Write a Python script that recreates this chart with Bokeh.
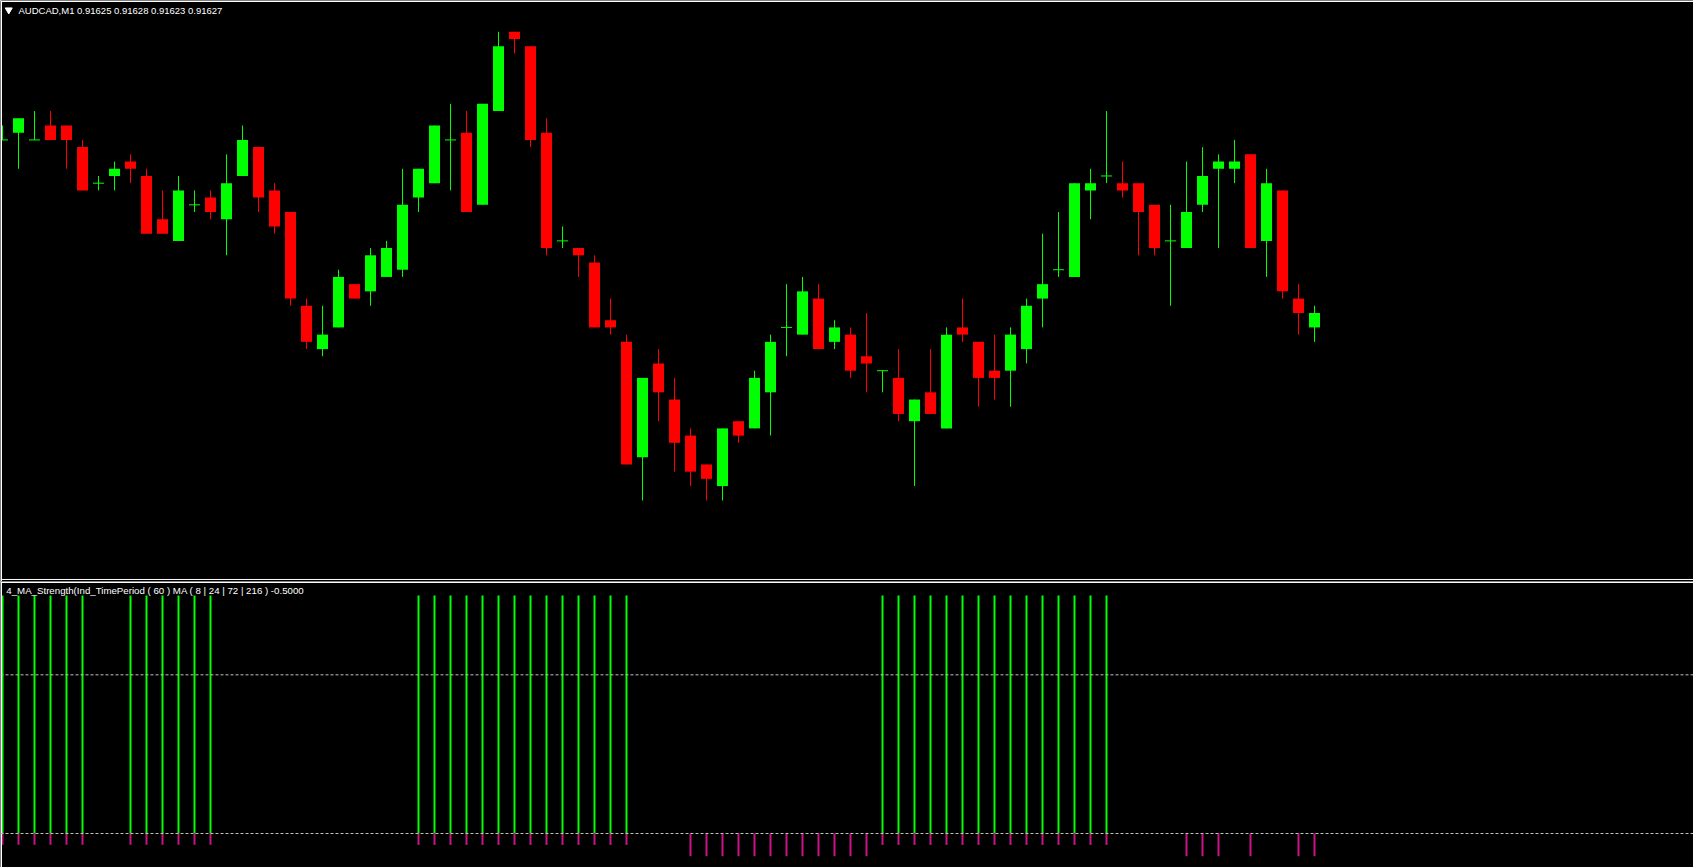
from bokeh.plotting import figure
from bokeh.layouts import column
from bokeh.models import Label, Span
from bokeh.embed import file_html
from bokeh.resources import INLINE

symbol = "AUDCAD,M1"
indicator_name = "4_MA_Strength(Ind_TimePeriod ( 60 ) MA ( 8 | 24 | 72 | 216 )  -0.5000"

opens = [0.91651, 0.91652, 0.91651, 0.91653, 0.91653, 0.91650, 0.91645, 0.91646, 0.91648, 0.91646,
         0.91640, 0.91637, 0.91642, 0.91643, 0.91640, 0.91646, 0.91650, 0.91644, 0.91641, 0.91628,
         0.91622, 0.91625, 0.91631, 0.91630, 0.91632, 0.91633, 0.91643, 0.91645, 0.91651, 0.91652,
         0.91642, 0.91655, 0.91666, 0.91664, 0.91652, 0.91637, 0.91636, 0.91634, 0.91626, 0.91623,
         0.91607, 0.91620, 0.91615, 0.91610, 0.91606, 0.91603, 0.91612, 0.91611, 0.91616, 0.91625,
         0.91624, 0.91629, 0.91623, 0.91624, 0.91621, 0.91619, 0.91618, 0.91612, 0.91616, 0.91611,
         0.91625, 0.91623, 0.91619, 0.91619, 0.91622, 0.91629, 0.91633, 0.91632, 0.91644, 0.91646,
         0.91645, 0.91645, 0.91642, 0.91637, 0.91636, 0.91642, 0.91647, 0.91647, 0.91649, 0.91637,
         0.91644, 0.91629, 0.91625]
highs = [0.91653, 0.91654, 0.91655, 0.91655, 0.91653, 0.91651, 0.91646, 0.91648, 0.91649, 0.91647,
         0.91644, 0.91646, 0.91644, 0.91644, 0.91649, 0.91653, 0.91650, 0.91645, 0.91641, 0.91629,
         0.91628, 0.91633, 0.91631, 0.91636, 0.91637, 0.91647, 0.91647, 0.91653, 0.91656, 0.91655,
         0.91656, 0.91666, 0.91666, 0.91664, 0.91654, 0.91639, 0.91636, 0.91635, 0.91629, 0.91624,
         0.91618, 0.91622, 0.91618, 0.91611, 0.91606, 0.91611, 0.91612, 0.91619, 0.91624, 0.91631,
         0.91632, 0.91631, 0.91626, 0.91625, 0.91627, 0.91619, 0.91622, 0.91615, 0.91622, 0.91625,
         0.91629, 0.91623, 0.91624, 0.91625, 0.91629, 0.91638, 0.91641, 0.91645, 0.91647, 0.91655,
         0.91648, 0.91645, 0.91642, 0.91642, 0.91648, 0.91650, 0.91649, 0.91651, 0.91649, 0.91647,
         0.91644, 0.91631, 0.91628]
lows = [0.91651, 0.91647, 0.91651, 0.91651, 0.91647, 0.91644, 0.91644, 0.91644, 0.91645, 0.91638,
        0.91638, 0.91637, 0.91641, 0.91640, 0.91635, 0.91646, 0.91641, 0.91638, 0.91628, 0.91622,
        0.91621, 0.91625, 0.91629, 0.91628, 0.91632, 0.91632, 0.91641, 0.91645, 0.91644, 0.91641,
        0.91642, 0.91655, 0.91663, 0.91650, 0.91635, 0.91636, 0.91632, 0.91625, 0.91624, 0.91606,
        0.91601, 0.91612, 0.91605, 0.91603, 0.91601, 0.91601, 0.91609, 0.91611, 0.91610, 0.91621,
        0.91624, 0.91622, 0.91622, 0.91618, 0.91616, 0.91616, 0.91612, 0.91603, 0.91613, 0.91611,
        0.91623, 0.91614, 0.91615, 0.91614, 0.91620, 0.91625, 0.91632, 0.91632, 0.91640, 0.91645,
        0.91643, 0.91635, 0.91635, 0.91628, 0.91636, 0.91641, 0.91636, 0.91645, 0.91636, 0.91632,
        0.91629, 0.91624, 0.91623]
closes = [0.91651, 0.91654, 0.91651, 0.91651, 0.91651, 0.91644, 0.91645, 0.91647, 0.91647, 0.91638,
          0.91638, 0.91644, 0.91642, 0.91641, 0.91645, 0.91651, 0.91643, 0.91639, 0.91629, 0.91623,
          0.91624, 0.91632, 0.91629, 0.91635, 0.91636, 0.91642, 0.91647, 0.91653, 0.91651, 0.91641,
          0.91656, 0.91664, 0.91665, 0.91651, 0.91636, 0.91637, 0.91635, 0.91625, 0.91625, 0.91606,
          0.91618, 0.91616, 0.91609, 0.91605, 0.91604, 0.91611, 0.91610, 0.91618, 0.91623, 0.91625,
          0.91630, 0.91622, 0.91625, 0.91619, 0.91620, 0.91619, 0.91613, 0.91615, 0.91613, 0.91624,
          0.91624, 0.91618, 0.91618, 0.91624, 0.91628, 0.91631, 0.91633, 0.91645, 0.91645, 0.91646,
          0.91644, 0.91641, 0.91636, 0.91637, 0.91641, 0.91646, 0.91648, 0.91648, 0.91636, 0.91645,
          0.91630, 0.91627, 0.91627]

# indicator buffers (histograms)
strength_up = [5.25, 5.25, 5.25, 5.25, 5.25, 5.25, 0, 0,
               5.25, 5.25, 5.25, 5.25, 5.25, 5.25,
               0, 0, 0, 0, 0, 0, 0, 0, 0, 0, 0, 0,
               5.25, 5.25, 5.25, 5.25, 5.25, 5.25, 5.25, 5.25, 5.25, 5.25, 5.25, 5.25, 5.25, 5.25,
               0, 0, 0, 0, 0, 0, 0, 0, 0, 0, 0, 0, 0, 0, 0,
               5.25, 5.25, 5.25, 5.25, 5.25, 5.25, 5.25, 5.25, 5.25, 5.25, 5.25, 5.25, 5.25, 5.25, 5.25,
               0, 0, 0, 0, 0, 0, 0, 0, 0, 0, 0, 0, 0]
strength_down = [-0.25, -0.25, -0.25, -0.25, -0.25, -0.25, 0, 0,
                 -0.25, -0.25, -0.25, -0.25, -0.25, -0.25,
                 0, 0, 0, 0, 0, 0, 0, 0, 0, 0, 0, 0,
                 -0.25, -0.25, -0.25, -0.25, -0.25, -0.25, -0.25, -0.25, -0.25, -0.25, -0.25, -0.25, -0.25, -0.25,
                 0, 0, 0,
                 -0.5, -0.5, -0.5, -0.5, -0.5, -0.5, -0.5, -0.5, -0.5, -0.5, -0.5, -0.5,
                 -0.25, -0.25, -0.25, -0.25, -0.25, -0.25, -0.25, -0.25, -0.25, -0.25, -0.25, -0.25, -0.25, -0.25, -0.25,
                 0, 0, 0, 0,
                 -0.5, -0.5, -0.5, 0, -0.5, 0, 0, -0.5, -0.5]
levels = [3.5, 0.0]

BULL = "#00FF00"
BEAR = "#FF0000"
DOWN = "#C71585"
LEVEL = "#C0C0C0"
FRAME = "white"
BODY_W = 0.6875

idx = list(range(len(opens)))

x_rng = (-0.125, 105.6875)
LEFT_EDGE = -0.0625


def base_fig(height, y_range):
    f = figure(width=1693, height=height, x_range=x_rng, y_range=y_range,
               x_axis_type=None, y_axis_type=None, title=None,
               output_backend="svg", toolbar_location=None, tools="",
               background_fill_color="black", border_fill_color="black",
               outline_line_color=None,
               min_border_left=0, min_border_top=0, min_border_right=0, min_border_bottom=0)
    f.grid.visible = False
    f.add_layout(Span(location=LEFT_EDGE, dimension="height", line_color=FRAME, line_width=1))
    return f


# ---------------- price panel ----------------
p1 = base_fig(581, (0.9158977, 0.9167033))
p1.add_layout(Span(location=0.9167019, dimension="width", line_color=FRAME, line_width=1))
p1.add_layout(Span(location=0.9159005, dimension="width", line_color=FRAME, line_width=1))

wick_color = [BULL if c >= o else BEAR for o, c in zip(opens, closes)]
p1.segment(x0=idx, y0=lows, x1=idx, y1=highs, color=wick_color, line_width=1)

bi = [i for i in idx if closes[i] > opens[i]]
ri = [i for i in idx if closes[i] < opens[i]]
di = [i for i in idx if closes[i] == opens[i]]

p1.vbar(x=bi, width=BODY_W, top=[closes[i] for i in bi], bottom=[opens[i] for i in bi],
        fill_color=BULL, line_color=None)
p1.vbar(x=ri, width=BODY_W, top=[opens[i] for i in ri], bottom=[closes[i] for i in ri],
        fill_color=BEAR, line_color=None)
p1.segment(x0=[i - BODY_W / 2 for i in di], y0=[opens[i] for i in di],
           x1=[i + BODY_W / 2 for i in di], y1=[opens[i] for i in di],
           color=BULL, line_width=1)

title_text = f"{symbol}  {opens[-1]:.5f} {highs[-1]:.5f} {lows[-1]:.5f} {closes[-1]:.5f}"
p1.scatter(x=[0.39], y=[0.9166902], marker="inverted_triangle", size=7,
           fill_color="white", line_color="white")
p1.add_layout(Label(x=1.0, y=0.9166895, text=title_text, text_color="white",
                    text_font="Liberation Sans", text_font_size="9.5px",
                    text_baseline="middle", text_align="left"))

# ---------------- indicator panel ----------------
p2 = base_fig(286, (-0.750, 5.559))
p2.add_layout(Span(location=5.537, dimension="width", line_color=FRAME, line_width=1))

for lv in levels:
    p2.add_layout(Span(location=lv, dimension="width", line_color=LEVEL,
                       line_dash="3 2", line_width=1))

ui = [i for i in idx if strength_up[i] != 0]
dn = [i for i in idx if strength_down[i] != 0]
p2.vbar(x=ui, width=0.125, top=[strength_up[i] for i in ui], bottom=0,
        fill_color=BULL, line_color=None)
p2.vbar(x=dn, width=0.125, top=0, bottom=[strength_down[i] for i in dn],
        fill_color=DOWN, line_color=None)

p2.add_layout(Label(x=0.2375, y=5.35, text=indicator_name, text_color="white",
                    text_font="Liberation Sans", text_font_size="9.7px",
                    text_baseline="middle", text_align="left"))

layout = column(p1, p2)
open("out.html", "w").write(file_html(layout, INLINE))
